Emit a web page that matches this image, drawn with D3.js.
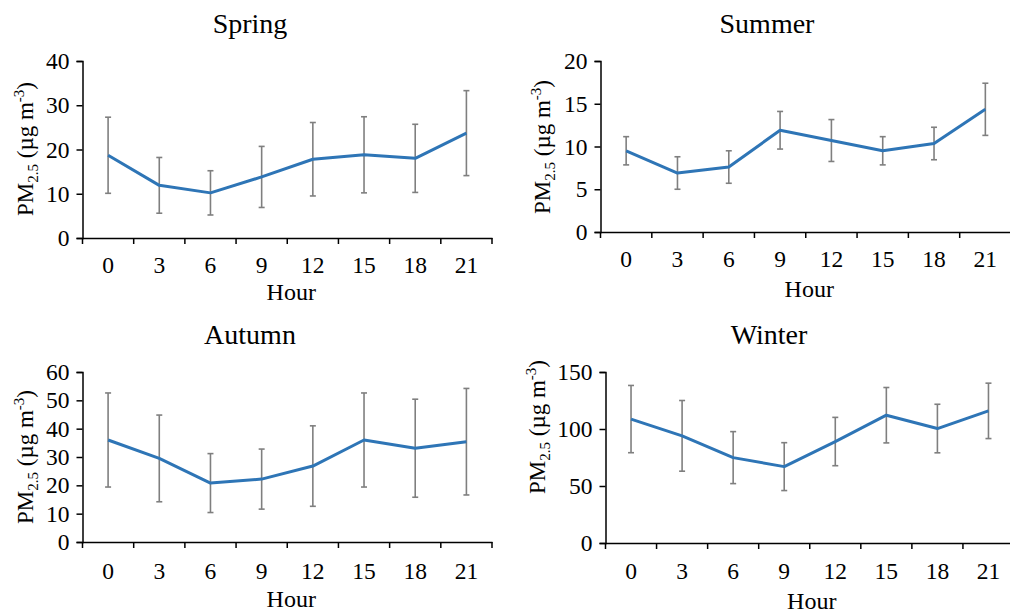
<!DOCTYPE html>
<html lang="en">
<head>
<meta charset="utf-8">
<title>PM2.5 diurnal variation by season</title>
<script src="https://cdn.jsdelivr.net/npm/d3@7"></script>
<style>
  body { margin: 0; background: #fff; }
  svg text { font-family: "Liberation Serif", "Times New Roman", serif; fill: #000; }
</style>
</head>
<body>
<script>
// hours of day (categories)
var hours = ["0", "3", "6", "9", "12", "15", "18", "21"]

// seasonal means and standard deviations
var springMean = [18.7, 11.9, 10.2, 13.8, 17.8, 18.8, 18.0, 23.7]
var springSd   = [8.6, 6.3, 5.0, 6.9, 8.3, 8.6, 7.7, 9.6]
var summerMean = [9.5, 6.9, 7.6, 11.9, 10.7, 9.5, 10.35, 14.35]
var summerSd   = [1.65, 1.9, 1.9, 2.2, 2.45, 1.65, 1.9, 3.05]
var autumnMean = [36.0, 29.5, 20.8, 22.2, 26.8, 36.0, 33.1, 35.4]
var autumnSd   = [16.6, 15.3, 10.4, 10.6, 14.2, 16.6, 17.3, 18.8]
var winterMean = [108.7, 94.0, 74.9, 67.0, 89.0, 112.1, 100.4, 115.9]
var winterSd   = [29.5, 31.0, 22.8, 21.0, 21.2, 24.3, 21.3, 24.3]

var yTicksSpring = [0, 10, 20, 30, 40]
var yTicksSummer = [0, 5, 10, 15, 20]
var yTicksAutumn = [0, 10, 20, 30, 40, 50, 60]
var yTicksWinter = [0, 50, 100, 150]

var w = 1010
var h = 609
var lineColor = "#2e75b6"
var barColor = "#7f7f7f"
var tickFont = "23.5px"

var svg = d3.select("body").append("svg")
  .attr("width", w)
  .attr("height", h)

// one entry per panel: where it sits and what it shows
var panels = [
  { title: "Spring", mean: springMean, sd: springSd, ticks: yTicksSpring,
    x0: 82.5, x1: 492, top: 61, bottom: 238, titleX: 250, titleY: 33, labX: 25, labY: 149, tickDy: 35, hourDy: 62 },
  { title: "Summer", mean: summerMean, sd: summerSd, ticks: yTicksSummer,
    x0: 600.5, x1: 1011, top: 61, bottom: 232, titleX: 767, titleY: 33, labX: 542, labY: 147, tickDy: 35, hourDy: 65 },
  { title: "Autumn", mean: autumnMean, sd: autumnSd, ticks: yTicksAutumn,
    x0: 82.5, x1: 492, top: 372, bottom: 542, titleX: 250, titleY: 344, labX: 25, labY: 457, tickDy: 37, hourDy: 65 },
  { title: "Winter", mean: winterMean, sd: winterSd, ticks: yTicksWinter,
    x0: 605.5, x1: 1014, top: 372, bottom: 543, titleX: 769, titleY: 344, labX: 537, labY: 427, tickDy: 36, hourDy: 66 }
]

panels.forEach(drawPanel)

function drawPanel(p) {
  var g = svg.append("g")

  var x = d3.scaleBand().domain(hours).range([p.x0, p.x1]).padding(0)
  var y = d3.scaleLinear().domain([0, d3.max(p.ticks)]).range([p.bottom, p.top])

  // y axis
  var yAxis = g.append("g")
    .attr("transform", "translate(" + p.x0 + ",0)")
    .call(d3.axisLeft(y).tickValues(p.ticks).tickSize(6).tickPadding(7))
  yAxis.select(".domain").attr("stroke", "#000").attr("stroke-width", 1.5)
  yAxis.selectAll(".tick line").attr("stroke", "#000").attr("stroke-width", 1.5)
  yAxis.selectAll(".tick text")
    .style("font-family", '"Liberation Serif", serif')
    .style("font-size", tickFont)
    .attr("fill", "#000")

  // x axis: line + tick marks between categories
  var xAxis = g.append("g")
    .attr("transform", "translate(0," + p.bottom + ")")
    .call(d3.axisBottom(x).tickSize(0).tickPadding(p.tickDy - 17))
  xAxis.select(".domain").attr("stroke", "#000").attr("stroke-width", 1.5)
  xAxis.selectAll(".tick text")
    .style("font-family", '"Liberation Serif", serif')
    .style("font-size", tickFont)
    .attr("fill", "#000")

  var bounds = hours.map(function (d) { return x(d) }).concat([p.x1])
  g.selectAll("line.xtick")
    .data(bounds)
    .enter()
    .append("line")
    .attr("class", "xtick")
    .attr("x1", function (d) { return d })
    .attr("x2", function (d) { return d })
    .attr("y1", p.bottom)
    .attr("y2", p.bottom + 6)
    .attr("stroke", "#000")
    .attr("stroke-width", 1.5)

  var rows = hours.map(function (d, i) { return { hour: d, m: p.mean[i], s: p.sd[i] } })
  var cx = function (d) { return x(d.hour) + x.bandwidth() / 2 }

  // error bars
  var eb = g.selectAll("g.err").data(rows).enter().append("g").attr("class", "err")
    .attr("stroke", barColor).attr("stroke-width", 1.6)
  eb.append("line")
    .attr("x1", cx).attr("x2", cx)
    .attr("y1", function (d) { return y(d.m + d.s) })
    .attr("y2", function (d) { return y(d.m - d.s) })
  eb.append("line")
    .attr("x1", function (d) { return cx(d) - 3 }).attr("x2", function (d) { return cx(d) + 3 })
    .attr("y1", function (d) { return y(d.m + d.s) })
    .attr("y2", function (d) { return y(d.m + d.s) })
  eb.append("line")
    .attr("x1", function (d) { return cx(d) - 3 }).attr("x2", function (d) { return cx(d) + 3 })
    .attr("y1", function (d) { return y(d.m - d.s) })
    .attr("y2", function (d) { return y(d.m - d.s) })

  // mean line
  g.append("path")
    .datum(rows)
    .attr("fill", "none")
    .attr("stroke", lineColor)
    .attr("stroke-width", 3)
    .attr("stroke-linejoin", "round")
    .attr("d", d3.line().x(cx).y(function (d) { return y(d.m) }))

  // title
  g.append("text")
    .attr("x", p.titleX)
    .attr("y", p.titleY)
    .attr("text-anchor", "middle")
    .style("font-size", "28px")
    .text(p.title)

  // x label
  g.append("text")
    .attr("x", (p.x0 + Math.min(p.x1, 1010)) / 2 + 4)
    .attr("y", p.bottom + p.hourDy)
    .attr("text-anchor", "middle")
    .style("font-size", "24px")
    .text("Hour")

  // y label with sub/superscript
  var lab = g.append("text")
    .attr("transform", "translate(" + p.labX + "," + p.labY + ") rotate(-90)")
    .attr("text-anchor", "middle")
    .attr("dy", "0.35em")
    .style("font-size", "23px")
  lab.append("tspan").text("PM")
  lab.append("tspan").attr("dy", 5).style("font-size", "15px").text("2.5")
  lab.append("tspan").attr("dy", -5).text(" (µg m")
  lab.append("tspan").attr("dy", -9).style("font-size", "15px").text("-3")
  lab.append("tspan").attr("dy", 9).text(")")
}
</script>
</body>
</html>
